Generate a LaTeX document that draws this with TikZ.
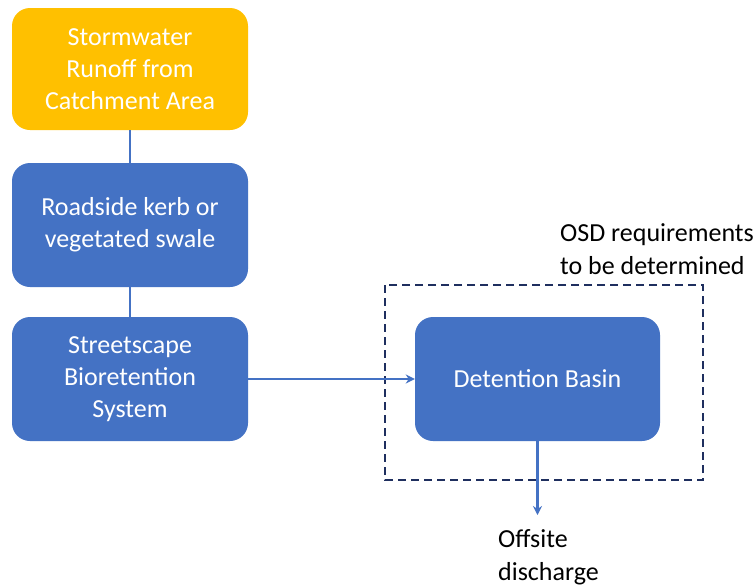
\documentclass[tikz,border=0pt]{standalone}
\usepackage{fontspec}
\setmainfont{Carlito}
\usetikzlibrary{arrows.meta}
\definecolor{gold}{HTML}{FFC000}
\definecolor{ablue}{HTML}{4472C4}
\definecolor{navy}{HTML}{1F2F5F}
\begin{document}
\begin{tikzpicture}[x=1pt,y=-1pt,
  box/.style={draw=none, rounded corners=18pt, text=white, align=center,
    font=\fontsize{26}{32}\selectfont, inner sep=0pt},
  conn/.style={draw=ablue, line width=2.2pt},
  arr/.style={conn, -{Stealth[length=9pt,width=9pt]}},
  lbl/.style={align=left, font=\fontsize{26}{33}\selectfont, text=black, inner sep=0pt, anchor=north west}]
\useasboundingbox (0,0) rectangle (756,587);
\fill[white] (0,0) rectangle (756,587);
\node[box, fill=gold, minimum width=236pt, minimum height=122pt] (s) at (130,69) {Stormwater\\Runoff from\\Catchment Area};
\node[box, fill=ablue, minimum width=236pt, minimum height=124pt] (r) at (130,225) {Roadside kerb or\\vegetated swale};
\node[box, fill=ablue, minimum width=236pt, minimum height=124pt] (b) at (130,379) {Streetscape\\Bioretention\\System};
\node[box, fill=ablue, minimum width=245pt, minimum height=124pt] (d) at (537.5,379) {Detention Basin};
\draw[navy, line width=1.6pt, dash pattern=on 8pt off 5pt] (385,285) rectangle (703,480);
\coordinate (o) at (537.5,515);
\node[lbl] (off) at (498,529) {Offsite\\discharge};
\node[lbl] (osd) at (560,223) {OSD requirements\\to be determined};
\draw[conn] (s) -- (r);
\draw[conn] (r) -- (b);
\draw[arr] (b.east) -- (d.west);
\draw[arr] (d.south) -- (o);
\end{tikzpicture}
\end{document}
